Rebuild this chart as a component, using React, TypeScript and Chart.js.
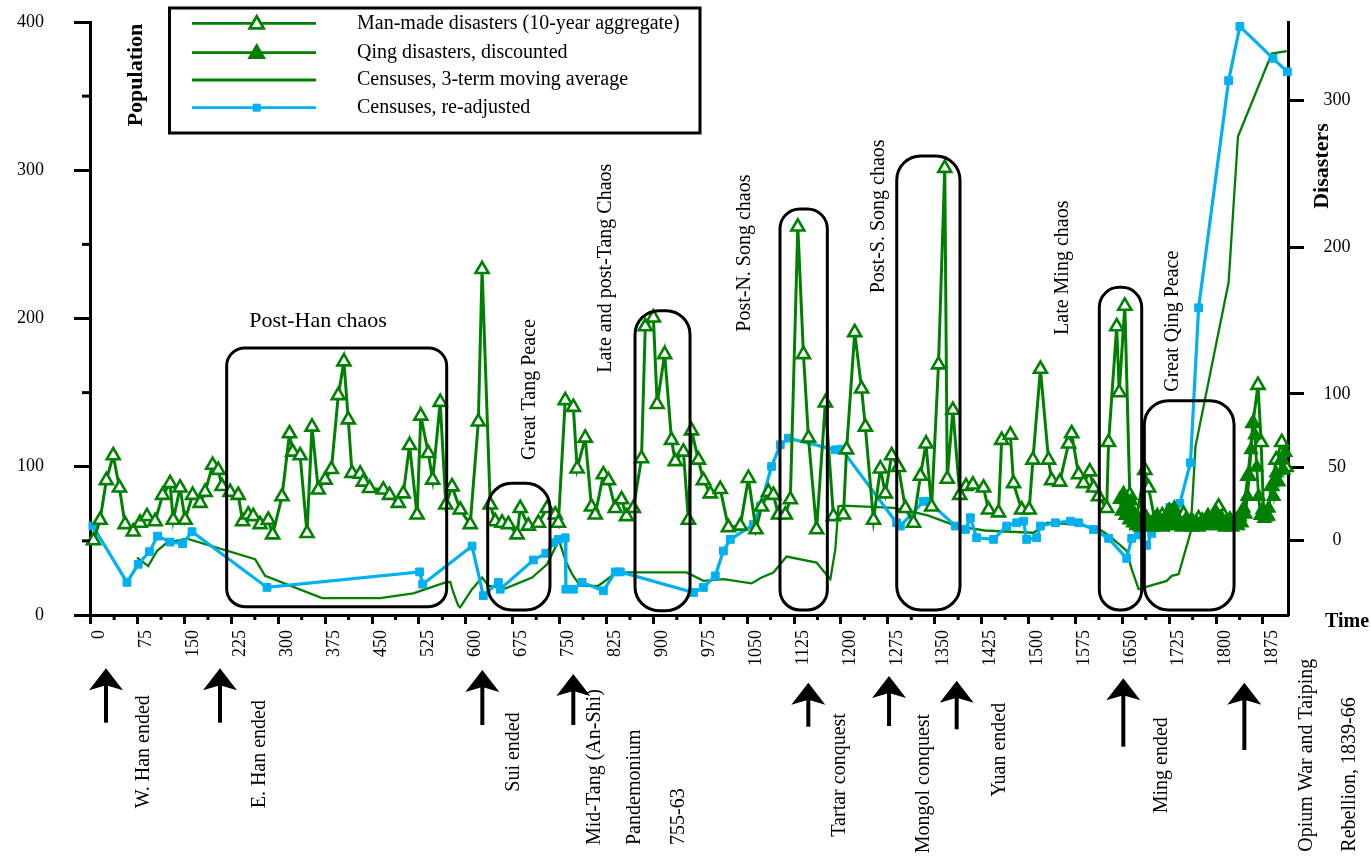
import { useEffect, useRef } from "react";
import { Chart, registerables } from "chart.js";

Chart.register(...registerables);

const FONT = "'Liberation Serif', 'Times New Roman', serif";
const GREEN = "#008000";
const BLUE = "#00b0f0";

// ---- axes ----
const xTickValues = [0, 75, 150, 225, 300, 375, 450, 525, 600, 675, 750, 825, 900, 975, 1050, 1125, 1200, 1275, 1350, 1425, 1500, 1575, 1650, 1725, 1800, 1875];
const leftTickValues = [0, 100, 200, 300, 400];
const rightTickValues = [0, 50, 100, 200, 300];

// ---- series: [year, value] ----
const manMadeDisasters: [number, number][] = [
  [4.5, 0], [15, 14], [25, 41], [36, 58], [46, 36], [55, 11], [68, 6], [79, 12], [90, 16.5], [103, 13],
  [115, 31], [127, 39], [132, 14], [143, 36], [151, 14], [163, 31], [175, 25.5], [183, 33], [195, 51.5], [204, 48],
  [210, 37], [223, 33], [236, 31], [243, 13], [252, 17.6], [260, 16.5], [271, 11], [284, 14], [291, 4], [306, 30],
  [318, 73], [323, 60.5], [335, 58], [346, 5], [354, 77.5], [364, 34.6], [375, 41.4], [385, 48.6], [396, 99], [405, 122],
  [412, 82.5], [418, 46], [431, 45.4], [436, 40], [446, 35.7], [468, 34.6], [478, 31], [492, 25.5], [500, 32], [510, 65],
  [522, 17.6], [528, 85], [540, 59.5], [547, 41.4], [559, 94.4], [568, 24.4], [578, 36.8], [591, 21], [607, 11], [620, 81],
  [626, 185], [639, 24.4], [647, 13], [658, 12], [668, 11], [682, 4], [687, 22], [700, 10], [716, 12], [730, 22],
  [743, 17.6], [748, 12], [759, 95.6], [772, 91], [778, 49], [791, 70], [801, 23], [807, 17.6], [820, 45], [828, 41],
  [839, 22], [849, 28], [857, 16.5], [868, 22], [881, 56], [887, 146], [900, 152], [906, 93], [918, 127], [929, 68.5],
  [935, 54], [948, 60.5], [956, 14], [961, 75], [972, 55], [980, 41], [991, 32], [1007, 35], [1020, 9], [1039, 10],
  [1052, 42.5], [1064, 7.5], [1073, 23], [1084, 33], [1092, 31], [1100, 17.6], [1111, 17.6], [1119, 28], [1131, 214], [1140, 127],
  [1148, 70], [1161, 7.5], [1175, 94], [1188, 16.5], [1204, 17.6], [1209, 62], [1222, 142], [1233, 103.5], [1239, 77.5], [1252, 14],
  [1263, 49], [1271, 32], [1281, 58], [1292, 50], [1303, 22], [1316, 12], [1327, 44], [1336, 66], [1345, 23], [1356, 120],
  [1366, 254], [1370, 42], [1379, 89], [1390, 31], [1400, 37], [1411, 38], [1428, 36], [1436, 21], [1452, 19], [1457, 68.5],
  [1471, 72], [1476, 39], [1489, 21], [1501, 21], [1507, 55], [1519, 117], [1532, 55], [1537, 41], [1550, 40], [1564, 66],
  [1569, 73], [1580, 45], [1588, 39], [1598, 47], [1604, 36], [1612, 30], [1625, 22], [1628, 67], [1641, 146], [1645, 101],
  [1654, 160], [1662, 31], [1672, 14], [1686, 48], [1692, 36], [1702, 14], [1714, 17], [1725, 20], [1737, 15], [1748, 18],
  [1760, 13], [1772, 15], [1784, 12], [1796, 16], [1804, 23], [1812, 17], [1822, 14], [1833, 13], [1843, 19], [1851, 44],
  [1859, 80], [1867, 106], [1872, 67], [1876, 19], [1882, 17], [1889, 37], [1896, 55], [1905, 67], [1912, 50],
];

const qingDiscounted: [number, number][] = [
  [1646, 28], [1649, 20], [1652, 32], [1655, 17], [1658, 24], [1661, 14], [1664, 27], [1667, 12], [1670, 18], [1673, 10],
  [1676, 15], [1679, 9], [1682, 13], [1685, 11], [1688, 16], [1691, 10], [1694, 12], [1697, 9], [1700, 14], [1703, 11],
  [1706, 17], [1709, 10], [1712, 13], [1715, 9], [1718, 12], [1721, 15], [1724, 10], [1727, 19], [1730, 12], [1733, 22],
  [1736, 14], [1739, 10], [1742, 13], [1745, 9], [1748, 11], [1751, 14], [1754, 10], [1757, 12], [1760, 9], [1763, 13],
  [1766, 10], [1769, 12], [1772, 9], [1775, 11], [1778, 14], [1781, 10], [1784, 13], [1787, 17], [1790, 12], [1793, 10],
  [1796, 15], [1799, 20], [1802, 13], [1805, 10], [1808, 16], [1811, 11], [1814, 9], [1817, 13], [1820, 10], [1823, 12],
  [1826, 9], [1829, 11], [1832, 14], [1835, 10], [1838, 16], [1841, 12], [1844, 22], [1847, 18], [1850, 30], [1853, 44],
  [1856, 62], [1859, 80], [1862, 72], [1865, 50], [1868, 30], [1871, 17], [1874, 21], [1877, 15], [1880, 16], [1884, 22],
  [1888, 37], [1892, 30], [1896, 46], [1900, 40], [1904, 55], [1908, 48], [1911, 60],
];

const censusMovingAvg: [number, number][] = [
  [74, 38.7], [92, 33], [106, 43.2], [122, 48.8], [154, 51.5], [263, 37.6], [279, 26.4], [370, 11.4], [463, 11.4], [516, 14.6],
  [564, 21.5], [575, 22.4], [580, 15.2], [588, 6.2], [591, 5.2], [610, 17.4], [626, 25.3], [636, 19.7], [663, 17.9], [706, 25.3],
  [730, 34.2], [749, 50.5], [760, 36], [770, 27.5], [783, 19.7], [812, 19.7], [841, 28.7], [876, 28.7], [953, 28.7], [980, 23],
  [1012, 24.2], [1057, 21.3], [1073, 25.3], [1092, 28.7], [1113, 39.4], [1161, 35.4], [1172, 29.7], [1183, 24.2], [1191, 44.3], [1196, 73.4],
  [1204, 73.8], [1284, 72.3], [1310, 70], [1340, 67], [1385, 60], [1430, 57], [1480, 56], [1508, 55.5], [1530, 62.2], [1580, 61],
  [1614, 57.7], [1630, 53.2], [1657, 43.2], [1665, 30.9], [1676, 17.4], [1721, 23], [1729, 26.4], [1740, 27.5], [1759, 55.5], [1767, 113.6],
  [1820, 224.4], [1835, 322.8], [1889, 378.7], [1913, 380.3],
];

const censusReadjusted: [number, number][] = [
  [3.5, 60], [58, 22], [76, 34.2], [94, 42.7], [107, 53.2], [127, 49.2], [147, 48.1], [162, 56.2], [282, 18.6], [526, 29.1],
  [531, 20.8], [610, 46.5], [628, 13], [652, 22], [655, 17.4], [708, 37.1], [728, 41.6], [740, 48.8], [748, 51], [759, 52.1],
  [760, 17.4], [772, 17.4], [786, 22], [820, 16.3], [839, 29.1], [847, 29.1], [964, 15.2], [980, 18.6], [999, 26.4], [1012, 43.2],
  [1023, 51], [1060, 61], [1071, 73.4], [1089, 100.2], [1103, 114.8], [1116, 119.3], [1191, 111.4], [1201, 111.9], [1289, 62.2], [1295, 60],
  [1332, 76.7], [1340, 76.7], [1383, 60], [1399, 57.7], [1407, 65.6], [1417, 52.1], [1444, 51], [1465, 60], [1481, 62.2], [1492, 63.3],
  [1497, 51], [1513, 52.1], [1519, 60], [1543, 62.2], [1567, 63.3], [1580, 62.2], [1604, 57.7], [1628, 51.7], [1657, 38.2], [1665, 51.7],
  [1676, 54], [1689, 47], [1697, 55], [1713, 67.4], [1726, 72.6], [1742, 75.3], [1759, 102.7], [1772, 207.2], [1820, 360.5], [1838, 397],
  [1891, 375.5], [1914, 366.4],
];

const seriesLabels = [
  "Man-made disasters (10-year aggregate)",
  "Qing disasters, discounted",
  "Censuses, 3-term moving average",
  "Censuses, re-adjusted",
];

// ---- annotations (data coordinates: year, population) ----
const eraBoxes = [
  { from: 217.5, to: 569.4, top: 180.1, bottom: 5.6, r: 18 },
  { from: 635, to: 734.6, top: 88.8, bottom: 3.4, r: 24 },
  { from: 870.6, to: 958.6, top: 205.3, bottom: 2.9, r: 24 },
  { from: 1102.5, to: 1178.2, top: 273.9, bottom: 3.4, r: 20 },
  { from: 1289.2, to: 1390.4, top: 309.6, bottom: 3.4, r: 24 },
  { from: 1613.2, to: 1681, top: 221, bottom: 3.4, r: 20 },
  { from: 1685.2, to: 1828.7, top: 144.6, bottom: 3.4, r: 24 },
];

const eraLabels = [
  { text: "Great Tang Peace", year: 701.5, val: 104.6 },
  { text: "Late and post-Tang Chaos", year: 823.7, val: 163.4 },
  { text: "Post-N. Song chaos", year: 1046.6, val: 191.1 },
  { text: "Post-S. Song chaos", year: 1259.8, val: 217 },
  { text: "Late Ming chaos", year: 1554.7, val: 188.9 },
  { text: "Great Qing Peace", year: 1730.6, val: 150.6 },
];

// event arrows: year, tip / tail offsets below the time axis (px)
const eventArrowYears = [24.5, 206.8, 626.4, 771.9, 1147.8, 1276.9, 1385.1, 1651.6, 1845.2];
const eventArrowTips = [53.3, 53.3, 55, 59, 67.7, 61, 65.7, 63.3, 67.7];
const eventArrowTails = [107.7, 107.7, 110, 110, 111.7, 111, 114.3, 131.7, 135];

const eventLabels = [
  { text: "W. Han ended", year: 85.3, start: 193.3 },
  { text: "E. Han ended", year: 269.7, start: 193.3 },
  { text: "Sui ended", year: 676, start: 176.7 },
  { text: "Mid-Tang (An-Shi)", year: 806.6, start: 230 },
  { text: "Pandemonium", year: 870.6, start: 230 },
  { text: "755-63", year: 939.9, start: 230 },
  { text: "Tartar conquest", year: 1197.4, start: 221.7 },
  { text: "Mongol conquest", year: 1331.7, start: 238.3 },
  { text: "Yuan ended", year: 1453.3, start: 181.7 },
  { text: "Ming ended", year: 1713, start: 198.3 },
  { text: "Opium War and Taiping", year: 1945, start: 236.7 },
  { text: "Rebellion, 1839-66", year: 2014.2, start: 236.7 },
];

const toXY = (arr: [number, number][]) => arr.map(([x, y]) => ({ x, y }));

function triPath(ctx: CanvasRenderingContext2D, x: number, y: number, r: number) {
  const a = (2 * Math.PI) / 3;
  ctx.beginPath();
  ctx.moveTo(x, y - r);
  ctx.lineTo(x + Math.sin(a) * r, y - Math.cos(a) * r);
  ctx.lineTo(x - Math.sin(a) * r, y - Math.cos(a) * r);
  ctx.closePath();
}

function roundBox(ctx: CanvasRenderingContext2D, x0: number, y0: number, x1: number, y1: number, r: number) {
  const rr = Math.min(r, (x1 - x0) / 2, (y1 - y0) / 2);
  ctx.beginPath();
  ctx.moveTo(x0 + rr, y0);
  ctx.lineTo(x1 - rr, y0);
  ctx.arcTo(x1, y0, x1, y0 + rr, rr);
  ctx.lineTo(x1, y1 - rr);
  ctx.arcTo(x1, y1, x1 - rr, y1, rr);
  ctx.lineTo(x0 + rr, y1);
  ctx.arcTo(x0, y1, x0, y1 - rr, rr);
  ctx.lineTo(x0, y0 + rr);
  ctx.arcTo(x0, y0, x0 + rr, y0, rr);
  ctx.closePath();
}

function vText(ctx: CanvasRenderingContext2D, text: string, x: number, y: number, align: CanvasTextAlign) {
  ctx.save();
  ctx.translate(x, y);
  ctx.rotate(-Math.PI / 2);
  ctx.textAlign = align;
  ctx.textBaseline = "middle";
  ctx.fillText(text, 0, 0);
  ctx.restore();
}

const decor = {
  id: "decor",
  afterDatasetsDraw(chart: any) {
    const ctx: CanvasRenderingContext2D = chart.ctx;
    const xs = chart.scales.x;
    const ys = chart.scales.y;
    ctx.save();
    ctx.strokeStyle = "#000";
    ctx.lineWidth = 3;
    eraBoxes.forEach((b) => {
      roundBox(ctx, xs.getPixelForValue(b.from), ys.getPixelForValue(b.top), xs.getPixelForValue(b.to), ys.getPixelForValue(b.bottom), b.r);
      ctx.stroke();
    });
    ctx.restore();
  },
  afterDraw(chart: any) {
    const ctx: CanvasRenderingContext2D = chart.ctx;
    const xs = chart.scales.x;
    const ys = chart.scales.y;
    const yr = chart.scales.yR;
    const ca = chart.chartArea;
    ctx.save();
    ctx.strokeStyle = "#000";
    ctx.fillStyle = "#000";
    ctx.lineWidth = 3;

    // minor ticks
    xTickValues.forEach((v) => {
      const m = v + 37.5;
      if (m > 1900) return;
      const px = xs.getPixelForValue(m);
      ctx.beginPath();
      ctx.moveTo(px, ca.bottom);
      ctx.lineTo(px, ca.bottom + 5);
      ctx.stroke();
    });
    leftTickValues.slice(0, -1).forEach((v) => {
      const py = ys.getPixelForValue(v + 50);
      ctx.beginPath();
      ctx.moveTo(ca.left, py);
      ctx.lineTo(ca.left - 8, py);
      ctx.stroke();
    });

    // right axis tick labels (centred column)
    ctx.font = `18px ${FONT}`;
    ctx.textAlign = "center";
    ctx.textBaseline = "middle";
    rightTickValues.forEach((v) => {
      ctx.fillText(String(v), ca.right + 49, yr.getPixelForValue(v));
    });

    // legend
    ctx.lineWidth = 3;
    ctx.strokeRect(169.5, 8, 530.5, 125);
    const rows = [23.3, 52.7, 80, 107.7];
    const colors = [GREEN, GREEN, GREEN, BLUE];
    rows.forEach((ry, i) => {
      ctx.strokeStyle = colors[i];
      ctx.lineWidth = 2.8;
      ctx.beginPath();
      ctx.moveTo(192, ry);
      ctx.lineTo(316, ry);
      ctx.stroke();
      if (i === 0 || i === 1) {
        triPath(ctx, 256.7, ry + 1, 8);
        ctx.fillStyle = i === 0 ? "#fff" : GREEN;
        ctx.fill();
        ctx.stroke();
      } else if (i === 3) {
        ctx.fillStyle = BLUE;
        ctx.fillRect(252.7, ry - 4, 8, 8);
      }
      ctx.fillStyle = "#000";
      ctx.font = `20px ${FONT}`;
      ctx.textAlign = "left";
      ctx.textBaseline = "middle";
      ctx.fillText(seriesLabels[i], 357, ry);
    });

    // axis titles
    ctx.fillStyle = "#000";
    ctx.font = `bold 22px ${FONT}`;
    vText(ctx, "Population", 136, 75, "center");
    vText(ctx, "Disasters", 1322, 166, "center");
    ctx.font = `bold 20px ${FONT}`;
    ctx.textAlign = "left";
    ctx.textBaseline = "middle";
    ctx.fillText("Time", 1325, 621.7);

    // in-plot labels
    ctx.font = `22px ${FONT}`;
    ctx.textAlign = "center";
    ctx.fillText("Post-Han chaos", xs.getPixelForValue(363.6), ys.getPixelForValue(198));
    ctx.font = `20px ${FONT}`;
    eraLabels.forEach((l) => vText(ctx, l.text, xs.getPixelForValue(l.year), ys.getPixelForValue(l.val), "left"));

    // event arrows
    ctx.strokeStyle = "#000";
    ctx.fillStyle = "#000";
    eventArrowYears.forEach((year, i) => {
      const x = xs.getPixelForValue(year);
      const tip = ca.bottom + eventArrowTips[i];
      const tail = ca.bottom + eventArrowTails[i];
      ctx.lineWidth = 4;
      ctx.beginPath();
      ctx.moveTo(x, tip + 12);
      ctx.lineTo(x, tail);
      ctx.stroke();
      ctx.beginPath();
      ctx.moveTo(x, tip);
      ctx.lineTo(x + 17, tip + 22);
      ctx.lineTo(x, tip + 17);
      ctx.lineTo(x - 17, tip + 22);
      ctx.closePath();
      ctx.fill();
    });

    // event labels
    ctx.font = `20px ${FONT}`;
    eventLabels.forEach((l) => vText(ctx, l.text, xs.getPixelForValue(l.year), ca.bottom + l.start, "left"));

    ctx.restore();
  },
};

export default function App() {
  const ref = useRef<HTMLCanvasElement>(null);
  useEffect(() => {
    if (!ref.current) return;
    const tickFont = { family: FONT, size: 18 };
    const noPadY = (w: number) => (s: any) => {
      s.width = w;
      s.paddingTop = 0;
      s.paddingBottom = 0;
    };
    const chart = new Chart(ref.current, {
      type: "line",
      data: {
        datasets: [
          {
            label: seriesLabels[1],
            data: toXY(qingDiscounted),
            yAxisID: "yR",
            borderColor: GREEN,
            borderWidth: 2.8,
            pointStyle: "triangle",
            pointRadius: 7,
            pointBorderWidth: 2,
            pointBackgroundColor: GREEN,
            pointBorderColor: GREEN,
            tension: 0,
            clip: false,
          },
          {
            label: seriesLabels[0],
            data: toXY(manMadeDisasters),
            yAxisID: "yR",
            borderColor: GREEN,
            borderWidth: 3,
            pointStyle: "triangle",
            pointRadius: 7.5,
            pointBorderWidth: 2.6,
            pointBackgroundColor: "#fff",
            pointBorderColor: GREEN,
            tension: 0,
            clip: false,
          },
          {
            label: seriesLabels[3],
            data: toXY(censusReadjusted),
            yAxisID: "y",
            borderColor: BLUE,
            borderWidth: 3.2,
            pointStyle: "rect",
            pointRadius: 5.5,
            pointBorderWidth: 1,
            pointBackgroundColor: BLUE,
            pointBorderColor: BLUE,
            tension: 0,
            clip: false,
          },
          {
            label: seriesLabels[2],
            data: toXY(censusMovingAvg),
            yAxisID: "y",
            borderColor: GREEN,
            borderWidth: 2.3,
            pointRadius: 0,
            tension: 0,
            clip: false,
          },
        ],
      },
      options: {
        responsive: false,
        animation: false,
        devicePixelRatio: 1,
        layout: { padding: { top: 22, left: 0, right: 0, bottom: 0 } },
        plugins: {
          legend: { display: false },
          title: { display: false },
          tooltip: { enabled: false },
        },
        scales: {
          x: {
            type: "linear",
            min: -1.1,
            max: 1915,
            afterBuildTicks: (s: any) => {
              s.ticks = xTickValues.map((v) => ({ value: v }));
            },
            afterFit: (s: any) => {
              s.height = 246;
              s.paddingLeft = 0;
              s.paddingRight = 0;
            },
            grid: { display: true, drawOnChartArea: false, drawTicks: true, tickLength: 9, tickWidth: 3, tickColor: "#000" },
            border: { display: true, color: "#000", width: 3 },
            ticks: {
              autoSkip: false,
              minRotation: 90,
              maxRotation: 90,
              padding: 6,
              labelOffset: 9,
              color: "#000",
              font: tickFont,
              callback: (v: any) => String(v),
            },
          },
          y: {
            type: "linear",
            position: "left",
            min: 0,
            max: 400,
            afterBuildTicks: (s: any) => {
              s.ticks = leftTickValues.map((v) => ({ value: v }));
            },
            afterFit: noPadY(90),
            grid: { display: true, drawOnChartArea: false, drawTicks: true, tickLength: 16, tickWidth: 3, tickColor: "#000" },
            border: { display: true, color: "#000", width: 3 },
            ticks: { padding: 30, color: "#000", font: tickFont, callback: (v: any) => String(v) },
          },
          yR: {
            type: "linear",
            position: "right",
            min: -50.8,
            max: 353.7,
            afterBuildTicks: (s: any) => {
              s.ticks = rightTickValues.map((v) => ({ value: v }));
            },
            afterFit: noPadY(83),
            grid: { display: true, drawOnChartArea: false, drawTicks: true, tickLength: 16, tickWidth: 3, tickColor: "#000" },
            border: { display: true, color: "#000", width: 3 },
            ticks: { display: false },
          },
        },
      } as any,
      plugins: [decor],
    });
    return () => chart.destroy();
  }, []);

  return (
    <div style={{ position: "fixed", left: 0, top: 0, width: 1371, height: 861, overflow: "hidden", background: "#fff" }}>
      <canvas ref={ref} width={1371} height={861} style={{ display: "block" }} />
    </div>
  );
}
